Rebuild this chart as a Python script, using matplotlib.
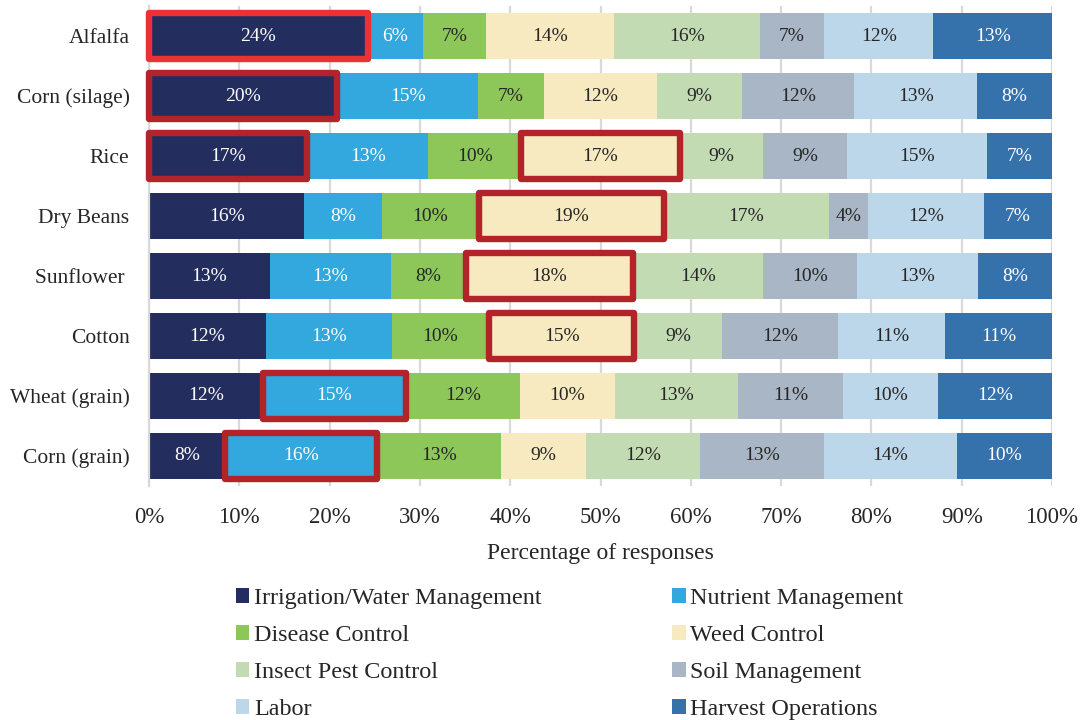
import numpy as np
from matplotlib.backends.backend_agg import FigureCanvasAgg as FigureCanvas
from matplotlib.figure import Figure
from matplotlib.patches import Rectangle

# Crops, top to bottom
crops = ['Alfalfa', 'Corn (silage)', 'Rice', 'Dry Beans', 'Sunflower ', 'Cotton',
         'Wheat (grain)', 'Corn (grain)']

# Percentage of responses for each concern (as printed on the bars)
irrigation = [24, 20, 17, 16, 13, 12, 12, 8]
nutrient = [6, 15, 13, 8, 13, 13, 15, 16]
disease = [7, 7, 10, 10, 8, 10, 12, 13]
weed = [14, 12, 17, 19, 18, 15, 10, 9]
insect = [16, 9, 9, 17, 14, 9, 13, 12]
soil = [7, 12, 9, 4, 10, 12, 11, 13]
labor = [12, 13, 15, 12, 13, 11, 10, 14]
harvest = [13, 8, 7, 7, 8, 11, 12, 10]

series_names = ['Irrigation/Water Management', 'Nutrient Management', 'Disease Control',
                'Weed Control', 'Insect Pest Control', 'Soil Management', 'Labor',
                'Harvest Operations']
series_colors = ['#242E5E', '#33A8DE', '#8DC75A', '#F8EAC0', '#C2DBB2', '#A9B6C6',
                 '#BDD7EA', '#3572AC']
label_colors = ['white', 'white', '#262626', '#262626', '#262626', '#262626',
                '#262626', 'white']

# (crop index, series index) of the outlined cells
highlighted = [(0, 0), (1, 0), (2, 0), (2, 3), (3, 3), (4, 3), (5, 3), (6, 1), (7, 1)]
highlight_colors = ['#EA3232'] + ['#B2232A'] * 8

FONT = 'Liberation Serif'


def plot_chart(filename):
    values = np.array([irrigation, nutrient, disease, weed, insect, soil, labor, harvest],
                      dtype=float)
    # 100% stacked: each bar is normalised to its own total
    shares = values / values.sum(axis=0) * 100

    fig = Figure(figsize=(10.83, 7.2), dpi=100)
    FigureCanvas(fig)
    ax = fig.add_axes([149 / 1083, 1 - 486 / 720, 903 / 1083, 480 / 720])

    y = np.arange(len(crops))
    bar_height = 0.78
    left = np.zeros(len(crops))
    handles = []
    for k in range(len(series_names)):
        bars = ax.barh(y, shares[k], left=left, height=bar_height, color=series_colors[k],
                       label=series_names[k], zorder=2)
        handles.append(bars)
        for i in range(len(crops)):
            ax.text(left[i] + shares[k][i] / 2, y[i], '%d%%' % values[k][i],
                    ha='center', va='center', color=label_colors[k],
                    fontsize=14, family=FONT, zorder=4)
        left = left + shares[k]

    # red boxes around the top concerns
    starts = np.vstack([np.zeros(len(crops)), np.cumsum(shares, axis=0)[:-1]])
    for (i, k), col in zip(highlighted, highlight_colors):
        box = Rectangle((starts[k][i], y[i] - bar_height / 2), shares[k][i], bar_height,
                        fill=False, edgecolor=col, linewidth=4.6, joinstyle='round',
                        zorder=5, clip_on=False)
        ax.add_patch(box)

    ax.set_xlim(0, 100)
    ax.set_ylim(len(crops) - 0.5, -0.5)
    ax.set_xticks(np.arange(0, 101, 10))
    ax.set_xticklabels(['%d%%' % t for t in range(0, 101, 10)], family=FONT, fontsize=16.5)
    ax.set_yticks(y)
    ax.set_yticklabels(crops, family=FONT, fontsize=15.5)
    ax.tick_params(axis='both', length=0, colors='#262626')
    ax.tick_params(axis='x', pad=15)
    ax.tick_params(axis='y', pad=14)
    ax.xaxis.grid(True, color='#D9D9D9', linewidth=1.6, zorder=0)
    ax.set_axisbelow(True)
    for side in ['top', 'right', 'bottom']:
        ax.spines[side].set_visible(False)
    ax.spines['left'].set_color('#D9D9D9')
    ax.spines['left'].set_linewidth(1.6)

    ax.set_xlabel('Percentage of responses', family=FONT, fontsize=17, color='#262626',
                  labelpad=11)

    # legend reads row by row: reorder for the column-first fill
    order = [0, 2, 4, 6, 1, 3, 5, 7]
    leg = fig.legend([handles[i] for i in order], [series_names[i] for i in order],
                     loc='upper left', bbox_to_anchor=(236 / 1083, 1 - 588 / 720),
                     ncol=2, frameon=False, borderpad=0, borderaxespad=0,
                     handlelength=0.55, handleheight=0.55, handletextpad=0.2,
                     columnspacing=5.4, labelspacing=0.66,
                     prop={'family': FONT, 'size': 17.4})
    for txt in leg.get_texts():
        txt.set_color('#262626')

    fig.savefig(filename)


def main():
    plot_chart('out.png')


if __name__ == '__main__':
    main()
